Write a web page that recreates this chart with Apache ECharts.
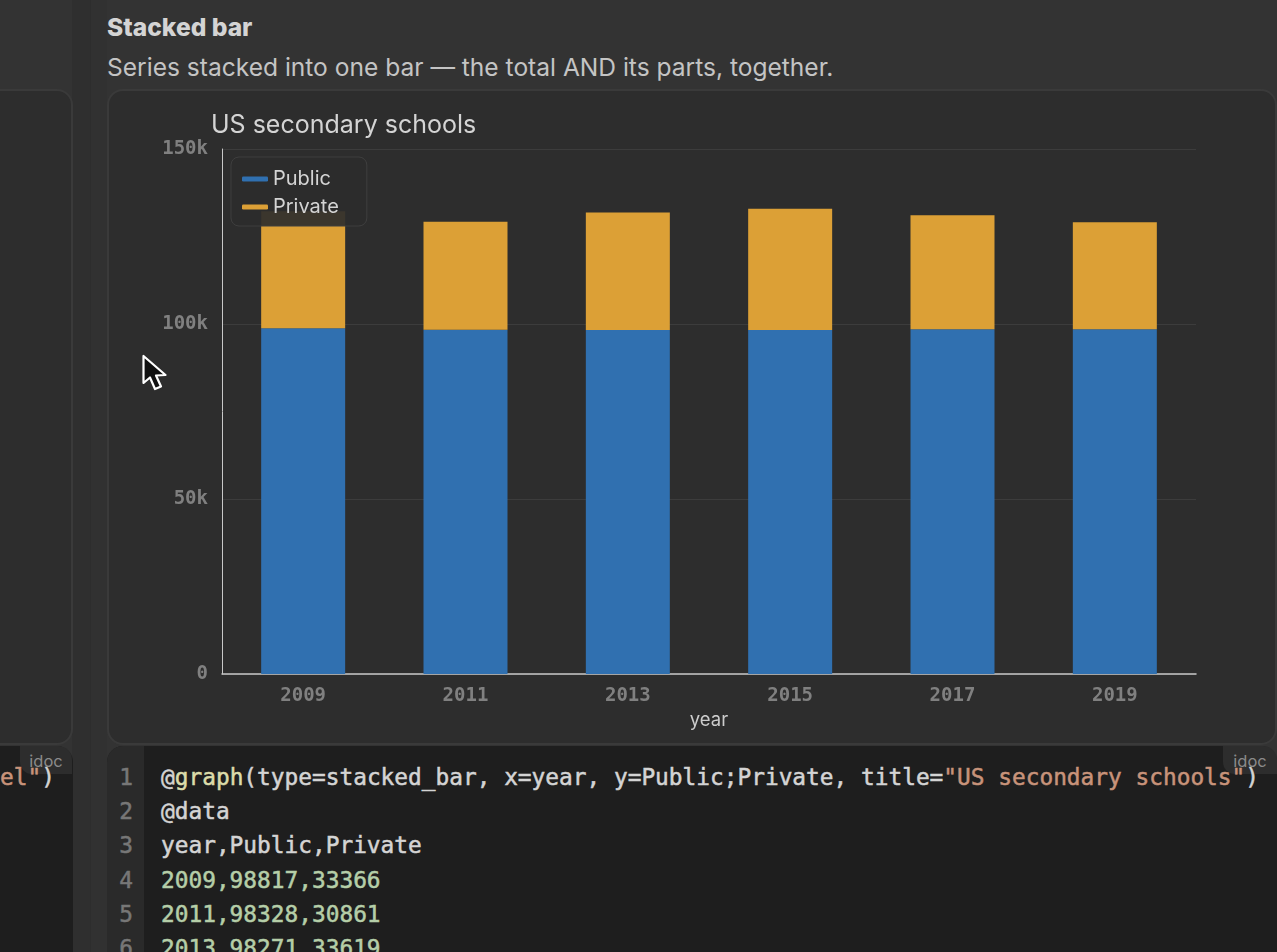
<!DOCTYPE html>
<html>
<head>
<meta charset="utf-8">
<script src="https://cdn.jsdelivr.net/npm/echarts@6/dist/echarts.min.js"></script>
<style>
html,body{margin:0;padding:0;width:1277px;height:952px;overflow:hidden;background:#333333;}
.abs{position:absolute;box-sizing:border-box;}
.h{left:107px;top:12px;font:800 24.6px Inter,sans-serif;color:#d4d4d4;white-space:pre;}
.sub{left:107px;top:52px;font:400 24.55px Inter,sans-serif;color:#c4c4c4;white-space:pre;}
.card{background:#2d2d2d;border:2px solid #3a3a3a;border-radius:16px;}
.code{background:#1e1e1e;border-radius:16px 16px 0 0;overflow:hidden;}
.gutter{background:#2a2a2a;}
.line{left:161px;font:400 22.8px/34.2px "DejaVu Sans Mono",monospace;-webkit-text-stroke:0.5px;color:#d4d4d4;white-space:pre;}
.num{left:107px;width:26px;text-align:right;font:400 22.8px/34.2px "DejaVu Sans Mono",monospace;-webkit-text-stroke:0.5px;color:#777;}
.badge{background:#2d2d2d;border-radius:0 14px 0 12px;font:400 16.5px/30px Inter,sans-serif;color:#8a8a8a;text-align:center;}
.fn{color:#dcdcaa}.str{color:#c8937a}.val{color:#b5cea8}
</style>
</head>
<body>
<div class="abs" style="left:72px;top:0;width:35px;height:952px;background:#2f2f2f;"></div>
<div class="abs" style="left:90px;top:0;width:17px;height:952px;background:#313131;border-left:1px solid #2d2d2d;"></div>

<div class="abs h">Stacked bar</div>
<div class="abs sub">Series stacked into one bar — the total AND its parts, together.</div>

<div class="abs card" style="left:-40px;top:89px;width:113px;height:656px;"></div>
<div class="abs code" style="left:-40px;top:746px;width:113px;height:206px;"></div>
<div class="abs badge" style="left:20px;top:746px;width:52px;height:28px;">idoc</div>
<div class="abs line" style="left:0;top:760px;"><span class="str">el"</span>)</div>

<div class="abs card" style="left:107px;top:89px;width:1170px;height:656px;"></div>
<div class="abs code" style="left:107px;top:746px;width:1170px;height:206px;"></div>
<div class="abs gutter" style="left:107px;top:746px;width:37px;height:206px;border-radius:16px 0 0 0;"></div>
<div class="abs badge" style="left:1223px;top:746px;width:54px;height:28px;">idoc</div>
<div id="code"></div>

<div id="main" class="abs" style="left:107px;top:89px;width:1170px;height:656px;"></div>

<svg class="abs" style="left:140px;top:353px;" width="30" height="42" viewBox="0 0 30 42">
<path d="M3.5 3 L3.5 30 L10 24.5 L15 36 L21 33.5 L16 22.5 L25.5 22 Z" fill="#111" stroke="#fff" stroke-width="2.2" stroke-linejoin="round"/>
</svg>

<script>
const chartTitle = 'US secondary schools';
const xName = 'year';
const years = ['2009','2011','2013','2015','2017','2019'];
const publicSchools = [98817,98328,98271,98300,98500,98500];
const privateSchools = [33366,30861,33619,34600,32600,30600];
const yTicks = {0:'0',50000:'50k',100000:'100k',150000:'150k'};

const monoFont = '"DejaVu Sans Mono", monospace';
const uiFont = 'Inter, sans-serif';

// code block under the chart
const codeLines = [
    '@<span class="fn">graph</span>(type=stacked_bar, x=year, y=Public;Private, title=<span class="str">"US secondary schools"</span>)',
    '@data',
    'year,Public,Private'
];
years.slice(0,3).forEach((y,i) => {
    codeLines.push('<span class="val">' + y + ',' + publicSchools[i] + ',' + privateSchools[i] + '</span>');
});
let codeHtml = '';
codeLines.forEach((l,i) => {
    const top = 760 + i * 34.2;
    codeHtml += '<div class="abs num" style="top:' + top + 'px">' + (i + 1) + '</div>';
    codeHtml += '<div class="abs line" style="top:' + top + 'px">' + l + '</div>';
});
document.getElementById('code').innerHTML = codeHtml;

const myChart = echarts.init(document.getElementById('main'), null, {renderer:'canvas'});
myChart.setOption({
    backgroundColor: 'transparent',
    animation: false,
    title: {
        text: chartTitle,
        left: 99,
        top: 19,
        textStyle: {color:'#d4d4d4', fontFamily:uiFont, fontSize:25, fontWeight:400}
    },
    legend: {
        orient: 'vertical',
        left: 124,
        top: 68,
        padding: [12,28,9,11],
        itemWidth: 26,
        itemHeight: 5,
        itemGap: 8,
        icon: 'roundRect',
        backgroundColor: 'rgba(45,45,45,0.92)',
        borderColor: '#3f3f3f',
        borderWidth: 1,
        borderRadius: 8,
        textStyle: {color:'#d4d4d4', fontFamily:uiFont, fontSize:20},
        data: ['Public','Private']
    },
    grid: {left:115, top:60, width:974, height:525, containLabel:false},
    xAxis: {
        type: 'category',
        data: years,
        name: xName,
        nameLocation: 'middle',
        nameGap: 36,
        nameTextStyle: {color:'#cccccc', fontFamily:uiFont, fontSize:18.5},
        axisLine: {show:true, lineStyle:{color:'#c8c8c8', width:1.5}},
        axisTick: {show:false},
        axisLabel: {color:'#808080', fontFamily:monoFont, fontSize:19, fontWeight:700, margin:13}
    },
    yAxis: {
        type: 'value',
        min: 0,
        max: 150000,
        interval: 50000,
        axisLine: {show:true, lineStyle:{color:'#c8c8c8', width:1}},
        axisTick: {show:false},
        splitLine: {show:true, lineStyle:{color:'#3c3c3c', width:1}},
        axisLabel: {
            color:'#808080', fontFamily:monoFont, fontSize:19, fontWeight:700, margin:14,
            padding: [4,0,0,0],
            formatter: (v) => yTicks[v]
        }
    },
    series: [
        {name:'Public', type:'bar', stack:'total', barWidth:84, data:publicSchools, itemStyle:{color:'#3070b0'}},
        {name:'Private', type:'bar', stack:'total', barWidth:84, data:privateSchools, itemStyle:{color:'#dca036'}}
    ]
});
window.addEventListener('resize',() => myChart.resize());
</script>
</body>
</html>
